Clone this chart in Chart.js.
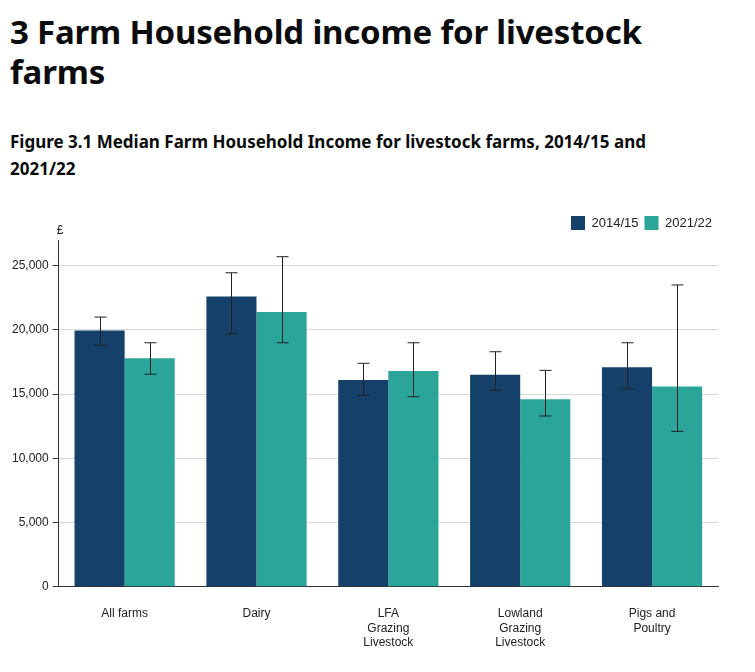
<!DOCTYPE html>
<html>
<head>
<meta charset="utf-8">
<script src="https://cdn.jsdelivr.net/npm/chart.js@4.4.0/dist/chart.umd.min.js"></script>
<style>
  body { margin: 0; background: #fff; font-family: "Noto Sans", Arial, sans-serif; color: #0b0c0c; }
  h1 { font-size: 33px; font-weight: 700; line-height: 40px; margin: 12px 0 0 10px; letter-spacing: -0.2px; }
  h2 { font-size: 17px; font-weight: 700; line-height: 27px; margin: 36px 0 0 10px; }
  #wrap { position: relative; width: 730px; height: 452px; margin-top: 28px; }
</style>
</head>
<body>
<h1>3 Farm Household income for livestock<br>farms</h1>
<h2>Figure 3.1 Median Farm Household Income for livestock farms, 2014/15 and<br>2021/22</h2>
<div id="wrap"><canvas id="c"></canvas></div>
<script>
var categories = [['All farms'], ['Dairy'], ['LFA', 'Grazing', 'Livestock'], ['Lowland', 'Grazing', 'Livestock'], ['Pigs and', 'Poultry']];
var series2014 = [19950, 22600, 16100, 16500, 17100];
var low2014 = [18800, 19700, 14900, 15300, 15400];
var high2014 = [21000, 24450, 17400, 18300, 19000];
var series2021 = [17800, 21400, 16800, 14600, 15600];
var low2021 = [16550, 19000, 14800, 13300, 12100];
var high2021 = [19000, 25700, 19000, 16850, 23500];

Chart.defaults.font.family = '"Liberation Sans", Arial, sans-serif';

var errorBars = {
    id: 'errorBars',
    afterDatasetsDraw: function (chart) {
        var ctx = chart.ctx;
        var y = chart.scales.y;
        var ranges = [[low2014, high2014], [low2021, high2021]];
        ctx.save();
        ctx.strokeStyle = '#222';
        ctx.lineWidth = 1;
        ranges.forEach(function (r, di) {
            chart.getDatasetMeta(di).data.forEach(function (bar, i) {
                var x = Math.round(bar.x) + 0.5;
                var y1 = y.getPixelForValue(r[0][i]);
                var y2 = y.getPixelForValue(r[1][i]);
                ctx.beginPath();
                ctx.moveTo(x, y1); ctx.lineTo(x, y2);
                ctx.moveTo(x - 6, y1); ctx.lineTo(x + 6, y1);
                ctx.moveTo(x - 6, y2); ctx.lineTo(x + 6, y2);
                ctx.stroke();
            });
        });
        ctx.fillStyle = '#222';
        ctx.font = '12px "Liberation Sans", Arial, sans-serif';
        ctx.textAlign = 'left';
        ctx.textBaseline = 'alphabetic';
        ctx.fillText('£', chart.chartArea.left - 2, chart.chartArea.top - 6);
        ctx.restore();
    }
};

new Chart(document.getElementById('c'), {
    type: 'bar',
    data: {
        labels: categories,
        datasets: [
            { label: '2014/15', data: series2014, backgroundColor: '#144069', categoryPercentage: 0.76, barPercentage: 1 },
            { label: '2021/22', data: series2021, backgroundColor: '#2ba59a', categoryPercentage: 0.76, barPercentage: 1 }
        ]
    },
    options: {
        responsive: true,
        maintainAspectRatio: false,
        animation: false,
        layout: { padding: { left: 8, right: 12, top: 0, bottom: 0 } },
        plugins: {
            legend: {
                position: 'top',
                align: 'end',
                labels: { boxWidth: 14, boxHeight: 14, padding: 6, color: '#222', font: { size: 13 } }
            },
            tooltip: { enabled: false }
        },
        scales: {
            x: {
                grid: { display: false },
                border: { color: '#333' },
                ticks: { color: '#222', font: { size: 12 }, maxRotation: 0, padding: 12 }
            },
            y: {
                min: 0,
                max: 27000,
                afterBuildTicks: function (axis) {
                    axis.ticks = [0, 5000, 10000, 15000, 20000, 25000].map(function (v) { return { value: v }; });
                },
                grid: { color: '#d9d9d9', drawTicks: true, tickLength: 6, tickColor: '#333' },
                border: { color: '#333' },
                ticks: { color: '#222', font: { size: 12 }, padding: 4 }
            }
        }
    },
    plugins: [errorBars]
});
</script>
</body>
</html>
